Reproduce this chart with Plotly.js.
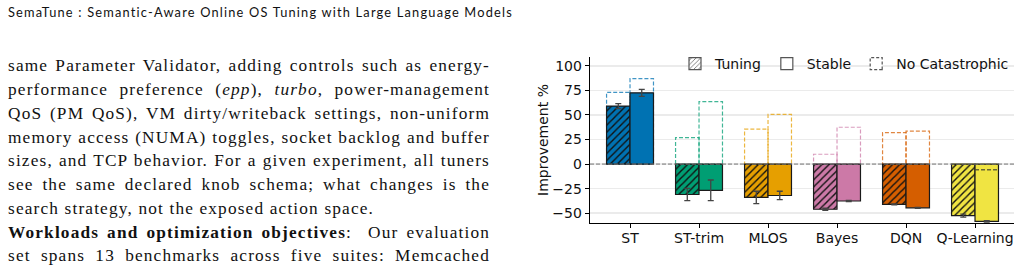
<!DOCTYPE html>
<html>
<head>
<meta charset="utf-8">
<script src="https://cdn.plot.ly/plotly-3.0.1.min.js"></script>
<style>
html,body{margin:0;padding:0;background:#fff;width:1021px;height:271px;overflow:hidden;}
#header{position:absolute;left:8px;top:4.5px;font-family:Lato,'Open Sans',sans-serif;font-size:12.8px;color:#111;white-space:nowrap;line-height:15px;}
.line{position:absolute;left:8px;width:482px;font-family:'Liberation Serif',serif;font-size:17.3px;color:#111;line-height:20px;text-align:justify;text-align-last:justify;}
.line.last{text-align:left;text-align-last:left;}
.measure{position:absolute;visibility:hidden;white-space:nowrap;font-family:'Liberation Serif',serif;font-size:17.3px;}
#chart{position:absolute;left:520px;top:45px;width:501px;height:226px;}
</style>
</head>
<body>
<div id="header">SemaTune : Semantic-Aware Online OS Tuning with Large Language Models</div>
<div class="line" style="top:56.2px">same Parameter Validator, adding controls such as energy-</div>
<div class="line" style="top:80px">performance preference (<i>epp</i>), <i>turbo</i>, power-management</div>
<div class="line" style="top:103.7px">QoS (PM QoS), VM dirty/writeback settings, non-uniform</div>
<div class="line" style="top:127.5px">memory access (NUMA) toggles, socket backlog and buffer</div>
<div class="line" style="top:151.2px">sizes, and TCP behavior. For a given experiment, all tuners</div>
<div class="line" style="top:175px">see the same declared knob schema; what changes is the</div>
<div class="line last" style="top:198.7px">search strategy, not the exposed action space.</div>
<div class="line" style="top:222.5px"><b>Workloads and optimization objectives</b>:&nbsp; Our evaluation</div>
<div class="line" style="top:246.2px">set spans 13 benchmarks across five suites: Memcached</div>
<div id="chart"></div>
<script>
// ---- data ----
const categories = ['ST', 'ST-trim', 'MLOS', 'Bayes', 'DQN', 'Q-Learning'];
const tuningValues = [59, -31, -34, -46, -41, -52.5];
const stableValues = [72.5, -26.7, -32, -37.6, -44.6, -58.3];
const tuningErrors = [2.5, 6.2, 6.3, 1.0, 0.5, 1.5];
const stableErrors = [3.5, 10.5, 4.3, 0.7, 0.4, 0.7];
const noCatTuning = [73, 27, 35.5, 10, 32, 0];
const noCatStable = [87, 63.5, 50.5, 37.5, 33.5, -5.8];
const yTicks = [-50, -25, 0, 25, 50, 75, 100];
const legendLabels = ['Tuning', 'Stable', 'No Catastrophic'];

// ---- styles ----
const palette = ['#0072B2', '#009E73', '#E69F00', '#CC79A7', '#D55E00', '#F0E442'];
const BW = 0.34;
function rgba(hex, a) {
  const n = parseInt(hex.slice(1), 16);
  return 'rgba(' + ((n >> 16) & 255) + ',' + ((n >> 8) & 255) + ',' + (n & 255) + ',' + a + ')';
}

// header letter-spacing fit
(function(){
  const h = document.getElementById('header');
  const w = h.getBoundingClientRect().width;
  const n = h.textContent.length;
  h.style.letterSpacing = ((504 - w) / (n - 1)) + 'px';
})();

// body text: one common letter-spacing so lines fill like the wider original face
(function(){
  const lines = Array.from(document.querySelectorAll('.line'));
  let ls = Infinity;
  lines.forEach(el => {
    if (el.classList.contains('last')) return;
    const m = document.createElement('span');
    m.className = 'measure';
    m.innerHTML = el.innerHTML;
    document.body.appendChild(m);
    const w = m.getBoundingClientRect().width;
    const n = m.textContent.length;
    ls = Math.min(ls, (480 - w) / n);
    m.remove();
  });
  if (isFinite(ls) && ls > 0) lines.forEach(el => el.style.letterSpacing = ls + 'px');
})();

const pos = categories.map((_, i) => i);
const xT = pos.map(p => p - BW / 2);
const xS = pos.map(p => p + BW / 2);
const edge = {color: '#1a1a1a', width: 1.2};
const errStyle = {type: 'data', visible: true, color: '#444', thickness: 1.3, width: 3};

const traces = [];
// hatched "Tuning" bars: one trace per tuner so the pattern keeps its own colours
categories.forEach((c, i) => {
  traces.push({type: 'bar', x: [xT[i]], y: [tuningValues[i]], width: BW, showlegend: false, hoverinfo: 'skip',
    marker: {color: palette[i], line: edge,
             pattern: {shape: '/', fillmode: 'replace', bgcolor: palette[i], fgcolor: '#111', fgopacity: 1, size: 5, solidity: 0.28}},
    error_y: Object.assign({array: [tuningErrors[i]]}, errStyle)});
});
// solid "Stable" bars
traces.push({type: 'bar', x: xS, y: stableValues, width: BW, showlegend: false, hoverinfo: 'skip',
  marker: {color: palette, line: edge},
  error_y: Object.assign({array: stableErrors}, errStyle)});
// legend entries
traces.push(
  {type: 'bar', x: [null], y: [null], name: legendLabels[0], showlegend: true,
   marker: {color: '#fff', line: {color: '#555', width: 1.2},
            pattern: {shape: '/', fillmode: 'replace', fgcolor: '#666', bgcolor: '#fff', fgopacity: 1, size: 4, solidity: 0.25}}},
  {type: 'bar', x: [null], y: [null], name: legendLabels[1], showlegend: true,
   marker: {color: '#fff', line: {color: '#555', width: 1.2}}},
  {type: 'bar', x: [null], y: [null], name: legendLabels[2], showlegend: true,
   marker: {color: '#fff', line: {color: '#555', width: 1.2}}}
);

const shapes = [];
categories.forEach((c, i) => {
  [[noCatTuning[i], xT[i], tuningValues[i]], [noCatStable[i], xS[i], stableValues[i]]].forEach(([v, xc, b]) => {
    shapes.push({type: 'rect', xref: 'x', yref: 'y', x0: xc - BW / 2, x1: xc + BW / 2, y0: 0, y1: v,
                 line: {color: rgba(palette[i], 0.75), width: 1.2, dash: '4px,2px'},
                 fillcolor: 'rgba(0,0,0,0)', layer: 'between'});
    if (v * b > 0 && Math.abs(v) < Math.abs(b)) {
      shapes.push({type: 'line', xref: 'x', yref: 'y', x0: xc - BW / 2, x1: xc + BW / 2, y0: v, y1: v,
                   line: {color: 'rgba(70,70,45,0.8)', width: 1.6, dash: '4px,2px'}, layer: 'above'});
    }
  });
});
shapes.push({type: 'line', xref: 'paper', x0: 0, x1: 1, yref: 'y', y0: 0, y1: 0,
             line: {color: '#777', width: 1, dash: '4px,2px'}, layer: 'above'});

const layout = {
  width: 501, height: 226,
  margin: {l: 70, r: 7, t: 12, b: 48, pad: 0, autoexpand: false},
  paper_bgcolor: 'rgba(0,0,0,0)', plot_bgcolor: '#fff',
  barmode: 'overlay',
  font: {family: 'DejaVu Sans', size: 14, color: '#111'},
  xaxis: {range: [-0.58, 5.565], tickmode: 'array', tickvals: pos, ticktext: categories,
          showgrid: false, zeroline: false, showline: true, linecolor: '#000', linewidth: 1.3,
          ticks: 'outside', ticklen: 4, tickwidth: 1, tickcolor: '#000', ticklabelstandoff: -2, fixedrange: true},
  yaxis: {range: [-60, 109], tickmode: 'array', tickvals: yTicks,
          showgrid: true, gridcolor: '#ebebeb', gridwidth: 1.5, zeroline: false,
          showline: true, linecolor: '#000', linewidth: 1.3,
          ticks: 'outside', ticklen: 4, tickwidth: 1, tickcolor: '#000',
          title: {text: 'Improvement %', standoff: 0, font: {size: 14}}, fixedrange: true},
  legend: {orientation: 'h', x: 1, xanchor: 'right', y: 0.958, yanchor: 'middle',
           bgcolor: 'rgba(0,0,0,0)', font: {size: 14, color: '#111'}, traceorder: 'normal'},
  shapes: shapes
};

Plotly.newPlot('chart', traces, layout, {displayModeBar: false, staticPlot: true}).then(gd => {
  const items = gd.querySelectorAll('.legend .traces');
  if (items[2]) items[2].querySelectorAll('.legendpoints path').forEach(p => p.style.strokeDasharray = '3,2');
});
</script>
</body>
</html>
